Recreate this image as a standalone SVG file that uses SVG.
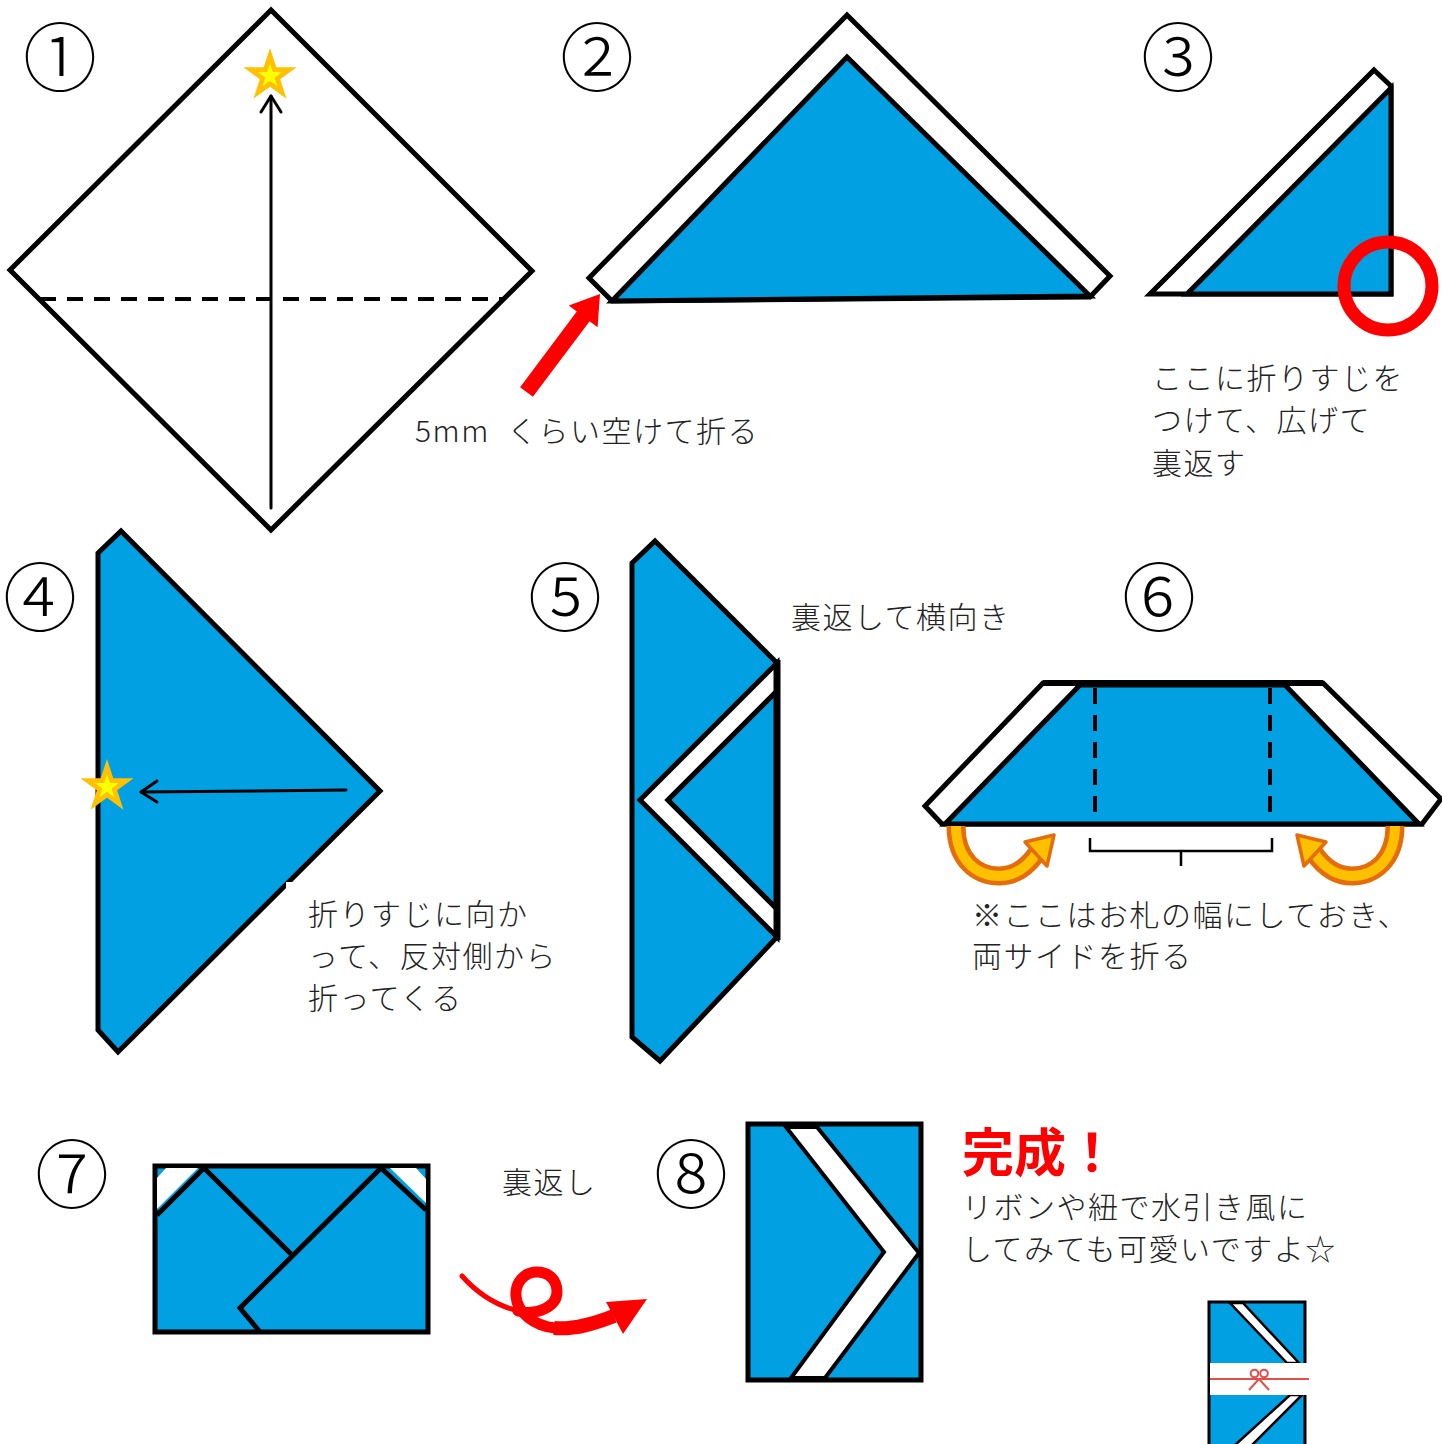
<svg xmlns="http://www.w3.org/2000/svg" xmlns:xlink="http://www.w3.org/1999/xlink" width="1442" height="1444" viewBox="0 0 1442 1444">
  <style>
    .paper { fill: #ffffff; stroke: #000; stroke-width: 5; stroke-linejoin: miter; }
    .blue { fill: #00a0e3; stroke: #000; stroke-width: 5; stroke-linejoin: miter; }
    .white { fill: #ffffff; stroke: #000; stroke-width: 5; stroke-linejoin: miter; }
    .fold { fill: none; stroke: #000; stroke-width: 5; stroke-linejoin: miter; }
    .dash { fill: none; stroke: #000; stroke-width: 4; stroke-dasharray: 16 11; }
    .guide { fill: none; stroke: #000; stroke-width: 3; stroke-linecap: round; stroke-linejoin: round; }
    .num { font-family: "Noto Sans CJK JP", "Noto Sans", sans-serif; font-size: 74px; font-weight: 300; fill: #000; text-anchor: middle; }
    .label { font-family: "Noto Sans CJK JP", "Noto Sans", sans-serif; font-size: 30px; font-weight: 300; letter-spacing: 1.5px; fill: #222; }
    .done { font-family: "Noto Sans CJK JP", "Noto Sans", sans-serif; font-size: 52px; font-weight: bold; fill: #ff0000; }
  </style>
  <defs>
    <!-- regular five-point star, outer radius 28 -->
    <path id="star" d="M0,-28 L6.29,-8.66 L26.63,-8.65 L10.18,3.31 L16.46,22.65 L0,10.7 L-16.46,22.65 L-10.18,3.31 L-26.63,-8.65 L-6.29,-8.66 Z"/>
    <g id="goldStar">
      <use xlink:href="#star" fill="#ffc000"/>
      <use xlink:href="#star" fill="#ffff00" transform="scale(0.45)"/>
    </g>
    <!-- orange curled fold arrow (left-hand version) -->
    <g id="curl">
      <path d="M956,826 C956,860 977,876 999,876 C1015,876 1028,866 1037,853" fill="none" stroke="#e46c0a" stroke-width="19"/>
      <path d="M956,826 C956,860 977,876 999,876 C1015,876 1028,866 1037,853" fill="none" stroke="#ffc000" stroke-width="10"/>
      <polygon points="1025,842 1054,835 1047,866" fill="#ffc000" stroke="#e46c0a" stroke-width="3.5" stroke-linejoin="round"/>
    </g>
  </defs>

  <rect width="1442" height="1444" fill="#ffffff"/>

  <!-- step 1: square sheet, fold bottom corner up -->
  <g id="step1">
    <text class="num" x="60" y="85">①</text>
    <polygon class="paper" points="271,10 532,271 271,530 10,270"/>
    <line class="dash" x1="40" y1="299" x2="502" y2="299"/>
    <use xlink:href="#goldStar" transform="translate(270,76)"/>
  </g>

  <!-- step 2: triangle folded leaving a 5mm margin -->
  <g id="step2">
    <text class="num" x="597" y="85">②</text>
    <polygon class="white" points="847,15 1110,276 1090,297 612,301 589,278"/>
    <polygon class="blue" points="847,57 1090,296 612,301"/>
    <text class="label" x="415" y="442">5mm <tspan x="507">くらい空けて折る</tspan></text>
  </g>

  <!-- step 3: half-folded triangle with crease mark -->
  <g id="step3">
    <text class="num" x="1178" y="85">③</text>
    <polygon class="white" points="1374,70 1391,86 1391,294 1150,294"/>
    <polygon class="blue" points="1391,88 1391,294 1187,294"/>
    <circle cx="1388" cy="286" r="44" fill="none" stroke="#ff0000" stroke-width="13"/>
    <text class="label" x="1152" y="389">ここに折りすじを</text>
    <text class="label" x="1152" y="431">つけて、広げて</text>
    <text class="label" x="1152" y="474">裏返す</text>
  </g>

  <!-- step 4: fold the far corner to the crease -->
  <g id="step4">
    <text class="num" x="40" y="625">④</text>
    <polygon class="blue" points="121,531 380,791 118,1052 98,1030 98,553"/>
    <rect x="286" y="882" width="18" height="10" fill="#ffffff"/>
    <use xlink:href="#goldStar" transform="translate(107,787)"/>
    <text class="label" x="308" y="925" letter-spacing="6">折りすじに向か</text>
    <text class="label" x="308" y="967">って、反対側から</text>
    <text class="label" x="308" y="1009">折ってくる</text>
  </g>

  <!-- step 5: folded strip with white chevron -->
  <g id="step5">
    <text class="num" x="565" y="625">⑤</text>
    <polygon class="blue" points="655,541 777,663 777,937 660,1061 632,1037 632,563"/>
    <polygon class="white" points="777,663 640,800 777,937 777,909 668,800 777,691"/>
    <polygon class="blue" points="777,691 668,800 777,909"/>
    <line x1="777" y1="660" x2="777" y2="940" stroke="#000" stroke-width="7"/>
    <text class="label" x="791" y="628">裏返して横向き</text>
  </g>

  <!-- step 6: turned sideways, fold both sides to note width -->
  <g id="step6">
    <text class="num" x="1159" y="625">⑥</text>
    <polygon class="white" points="1043,683 1323,683 1441,799 1422,824 942,824 925,806"/>
    <polygon class="blue" points="1080,685 1285,685 1419,824 945,824"/>
    <line x1="1043" y1="683" x2="1323" y2="683" stroke="#000" stroke-width="6"/>
    <line class="dash" x1="1095" y1="688" x2="1095" y2="822" stroke-width="3.5" stroke-dasharray="15 12"/>
    <line class="dash" x1="1270" y1="688" x2="1270" y2="822" stroke-width="3.5" stroke-dasharray="15 12"/>
    <path d="M1090,838 V851 H1272 V838 M1181,851 V866" fill="none" stroke="#000" stroke-width="2.5"/>
    <text class="label" x="972" y="926">※ここはお札の幅にしておき、</text>
    <text class="label" x="972" y="967">両サイドを折る</text>
  </g>

  <!-- step 7: folded envelope, front -->
  <g id="step7">
    <text class="num" x="72" y="1202">⑦</text>
    <rect class="blue" x="155" y="1166" width="273" height="166"/>
    <polygon points="166,1168 198,1168 157,1209 157,1178" fill="#ffffff"/>
    <polygon points="390,1168 416,1168 426,1179 426,1203" fill="#ffffff"/>
    <polyline class="fold" points="157,1215 204,1168 291,1254"/>
    <polyline class="fold" points="426,1210 381,1168 240,1308 260,1332"/>
    <text class="label" x="502" y="1193">裏返し</text>
  </g>

  <!-- step 8: finished envelope -->
  <g id="step8">
    <text class="num" x="691" y="1202">⑧</text>
    <rect class="blue" x="748" y="1124" width="173" height="256"/>
    <polygon points="786,1127 817,1127 919,1253 825,1378 791,1378 884,1252" fill="#ffffff" stroke="#000" stroke-width="4" stroke-linejoin="miter"/>
    <text class="done" x="962" y="1172">完成！</text>
    <text class="label" x="962" y="1218">リボンや紐で水引き風に</text>
    <text class="label" x="962" y="1260">してみても可愛いですよ☆</text>
  </g>

  <!-- finished envelope dressed with a ribbon -->
  <g id="ribbon-envelope">
    <rect x="1209" y="1302" width="96" height="146" fill="#00a0e3" stroke="#000" stroke-width="3"/>
    <polygon points="1230,1303 1243,1303 1299,1363 1287,1363" fill="#ffffff" stroke="#000" stroke-width="2.5"/>
    <polygon points="1290,1395 1302,1395 1251,1446 1234,1446" fill="#ffffff" stroke="#000" stroke-width="2.5"/>
    <rect x="1210" y="1363" width="99" height="32" fill="#ffffff"/>
    <line x1="1210" y1="1379" x2="1309" y2="1379" stroke="#e0504a" stroke-width="2"/>
    <g fill="none" stroke="#e0504a" stroke-width="2">
      <circle cx="1254.5" cy="1373.5" r="3.8"/>
      <circle cx="1264" cy="1373.5" r="3.8"/>
      <path d="M1259,1379 L1249,1390 M1259,1379 L1269,1390"/>
    </g>
  </g>

  <!-- arrows -->
  <g id="connectors">
    <line class="guide" x1="271" y1="508" x2="271" y2="96"/>
    <polyline class="guide" points="261,112 271,96 281,112"/>
    <polygon points="600,294 597.6,327.2 589.6,321.2 532.9,396.8 520.1,387.2 576.8,311.6 568.8,305.6" fill="#ff0000"/>
    <line class="guide" x1="346" y1="790" x2="141" y2="792"/>
    <polyline class="guide" points="157,781 141,792 157,802"/>
    <use xlink:href="#curl"/>
    <use xlink:href="#curl" transform="translate(2351,0) scale(-1,1)"/>
    <g fill="none" stroke="#ff0000" stroke-linecap="round">
      <path d="M462,1276 C478,1294 497,1306 519,1311" stroke-width="5"/>
      <path d="M518,1311 C538,1316 557,1306 557,1292 C557,1279 548,1272 537,1272 C524,1272 515,1283 516,1296 C517,1313 535,1326 555,1328" stroke-width="11"/>
      <path d="M554,1328 C575,1330 596,1323 614,1316" stroke-width="14" stroke-linecap="butt"/>
    </g>
    <polygon points="606,1302 647,1299 623,1334" fill="#ff0000"/>
  </g>
</svg>
